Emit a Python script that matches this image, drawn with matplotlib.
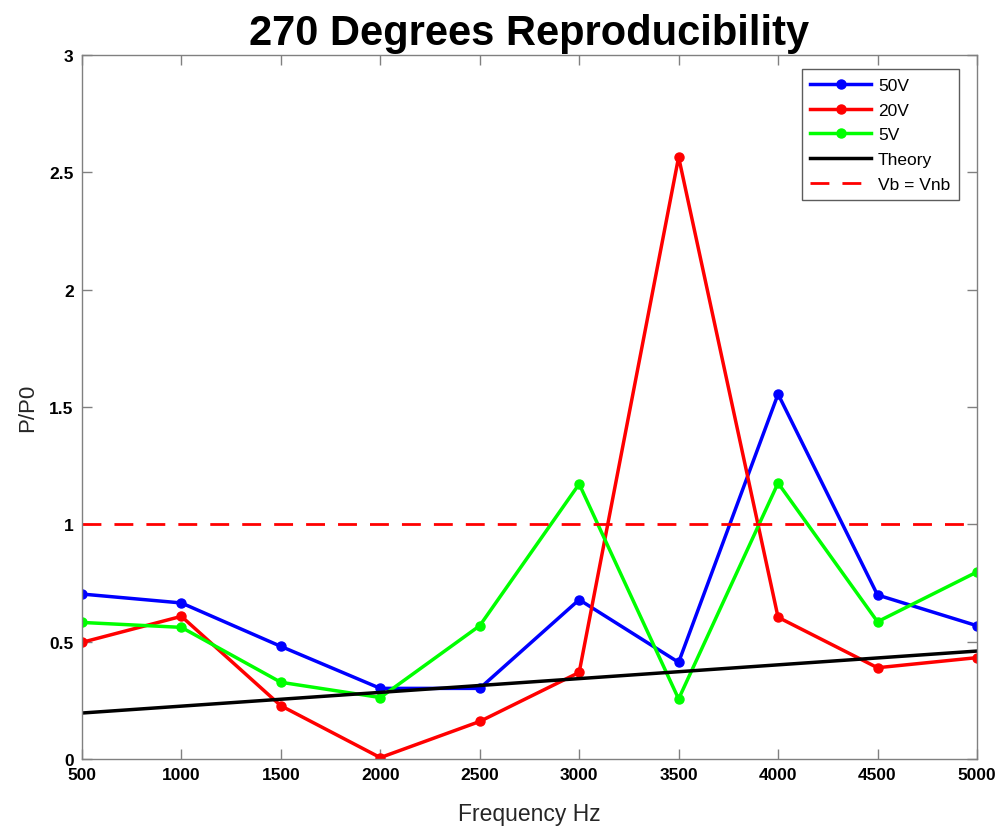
import matplotlib
matplotlib.use("Agg")
import matplotlib.pyplot as plt
import numpy as np

freq = [500, 1000, 1500, 2000, 2500, 3000, 3500, 4000, 4500, 5000]
v50 = [0.703, 0.665, 0.480, 0.301, 0.301, 0.679, 0.412, 1.555, 0.699, 0.568]
v20 = [0.497, 0.608, 0.227, 0.006, 0.160, 0.369, 2.565, 0.604, 0.389, 0.432]
v5 = [0.582, 0.561, 0.327, 0.262, 0.568, 1.172, 0.256, 1.176, 0.585, 0.797]
theory_x = [500, 5000]
theory_y = [0.196, 0.460]
vb_level = 1.0

plt.rcParams["font.family"] = ["Liberation Sans", "DejaVu Sans"]

fig = plt.figure(figsize=(10.02, 8.28), dpi=100)
ax = fig.add_axes([0.0818, 0.0821, 0.8932, 0.8503])

lw = 2.5
ax.plot(freq, v50, "-o", color="#0000ff", lw=lw, ms=6.5, label="50V")
ax.plot(freq, v20, "-o", color="#ff0000", lw=lw, ms=6.5, label="20V")
ax.plot(freq, v5, "-o", color="#00ff00", lw=lw, ms=6.5, label="5V")
ax.plot(theory_x, theory_y, "-", color="black", lw=lw, label="Theory")
ax.axhline(vb_level, color="#ff0000", lw=2.0, ls=(0, (6.8, 4.7)), label="Vb = Vnb")

ax.set_xlim(500, 5000)
ax.set_ylim(0, 3)
ax.set_xticks(np.arange(500, 5001, 500))
ax.set_yticks([0, 0.5, 1, 1.5, 2, 2.5, 3])
ax.set_yticklabels(["0", "0.5", "1", "1.5", "2", "2.5", "3"])
for s in ax.spines.values():
    s.set_color("#808080")
    s.set_linewidth(1.0)
ax.tick_params(direction="in", length=7, width=1, color="#808080",
               top=True, right=True, labelsize=12.5, pad=6)
for lab in ax.get_xticklabels() + ax.get_yticklabels():
    lab.set_fontweight("bold")

ax.set_xlabel("Frequency Hz", fontsize=16.5, color="#262626", labelpad=14)
ax.set_ylabel("P/P0", fontsize=16, color="#262626", labelpad=8)
ax.set_title("270 Degrees Reproducibility", fontsize=30, fontweight="bold", pad=8)

leg = ax.legend(loc="upper right", bbox_to_anchor=(0.980, 0.980), borderaxespad=0,
                fontsize=12.5, handlelength=3.5, frameon=True, fancybox=False,
                borderpad=0.5, labelspacing=0.55, handletextpad=0.4)
leg.get_frame().set_edgecolor("#333333")
leg.get_frame().set_linewidth(1.0)

fig.savefig("out.png", dpi=100)
